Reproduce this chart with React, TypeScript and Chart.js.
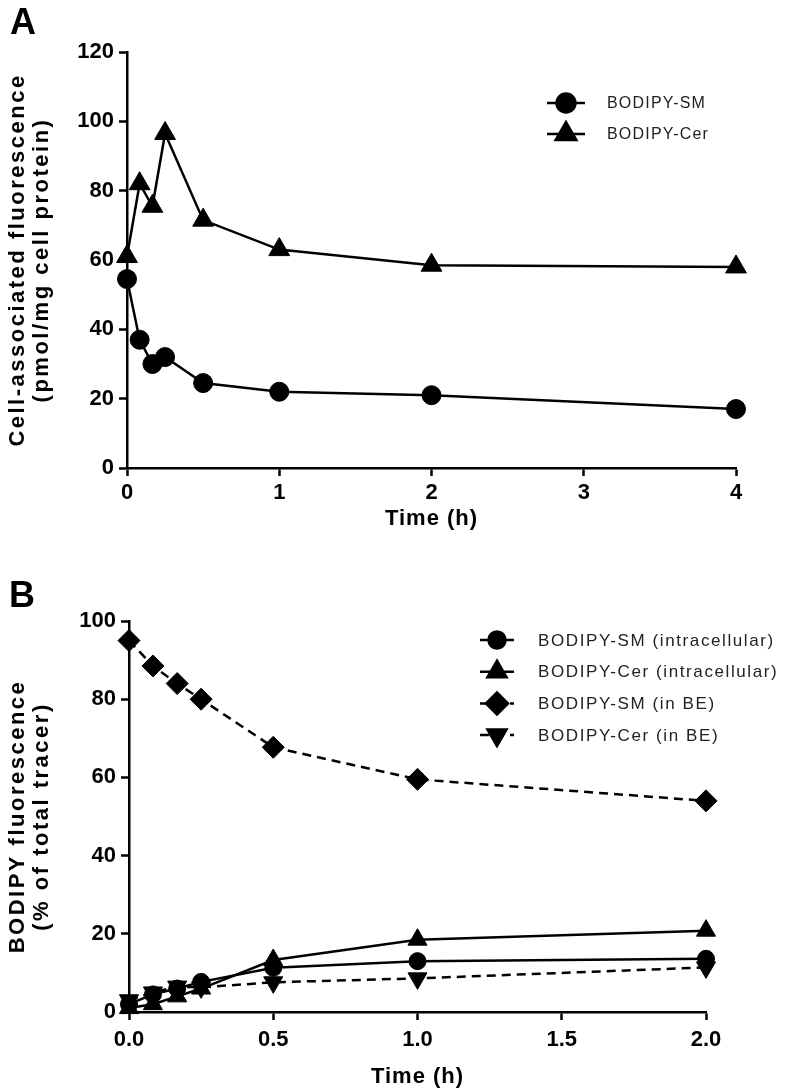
import React, { useEffect, useRef } from "react";
import { Chart, registerables } from "chart.js";
import { drawPoint } from "chart.js/helpers";

Chart.register(...registerables);

const FONT = "'Liberation Sans', Arial, Helvetica, sans-serif";

// ---------- Panel A data ----------
const timeA = [0, 0.083, 0.167, 0.25, 0.5, 1, 2, 4];
const smA = [54.5, 37, 30, 32, 24.5, 22, 21, 17];
const cerA = [61, 82, 75.5, 96.5, 71.5, 63, 58.5, 58];
const seriesNamesA = ["BODIPY-SM", "BODIPY-Cer"];
const xTicksA = [0, 1, 2, 3, 4];
const yTicksA = [0, 20, 40, 60, 80, 100, 120];

// ---------- Panel B data ----------
const timeB = [0, 0.083, 0.167, 0.25, 0.5, 1, 2];
const smIntraB = [2, 4.5, 6, 7.7, 11.3, 13, 13.6];
const cerIntraB = [1, 2, 4, 6, 13.3, 18.5, 20.8];
const smBEB = [95, 88.5, 84, 80, 67.7, 59.5, 54];
const cerBEB = [3, 5, 6.5, 6.3, 7.6, 8.6, 11.4];
const seriesNamesB = [
  "BODIPY-SM (intracellular)",
  "BODIPY-Cer (intracellular)",
  "BODIPY-SM (in BE)",
  "BODIPY-Cer (in BE)",
];
const xTicksB = [0, 0.5, 1, 1.5, 2];
const yTicksB = [0, 20, 40, 60, 80, 100];

const pts = (xs: number[], ys: number[]) => xs.map((x, i) => ({ x, y: ys[i] }));

const textPlugin = {
  id: "panelText",
  afterDraw(chart: any, _args: any, opts: any) {
    const ctx: CanvasRenderingContext2D = chart.ctx;
    const ca = chart.chartArea;
    ctx.save();
    ctx.fillStyle = "#000";
    // panel letter
    ctx.font = `bold ${opts.panelSize}px ${FONT}`;
    ctx.textAlign = "left";
    ctx.textBaseline = "alphabetic";
    ctx.fillText(opts.panel, opts.panelX, opts.panelY);

    // y title (rotated, multi-line)
    ctx.font = `bold ${opts.titleSize}px ${FONT}`;
    (ctx as any).letterSpacing = opts.titleSpacing + "px";
    const cy = (ca.top + ca.bottom) / 2;
    opts.yTitle.forEach((line: string, i: number) => {
      ctx.save();
      ctx.translate(opts.yTitleX[i], cy);
      ctx.rotate(-Math.PI / 2);
      ctx.textAlign = "center";
      ctx.textBaseline = "middle";
      ctx.fillText(line, 0, 0);
      ctx.restore();
    });

    // x title
    (ctx as any).letterSpacing = opts.xTitleSpacing + "px";
    ctx.textAlign = "center";
    ctx.textBaseline = "middle";
    ctx.fillText(opts.xTitle, (ca.left + ca.right) / 2, opts.xTitleY);

    // legend
    ctx.font = `${opts.legendSize}px ${FONT}`;
    (ctx as any).letterSpacing = opts.legendSpacing + "px";
    chart.data.datasets.forEach((ds: any, i: number) => {
      const y = opts.legendY + i * opts.legendDy;
      const x = opts.legendX;
      ctx.save();
      ctx.strokeStyle = "#000";
      ctx.lineWidth = ds.borderWidth;
      ctx.setLineDash(ds.borderDash || []);
      ctx.beginPath();
      ctx.moveTo(x - opts.legendHalf, y);
      ctx.lineTo(x + opts.legendHalf, y);
      ctx.stroke();
      ctx.setLineDash([]);
      ctx.fillStyle = "#000";
      drawPoint(ctx, {
        pointStyle: ds.pointStyle,
        rotation: ds.pointRotation || 0,
        radius: ds.pointRadius,
        borderWidth: 1,
      } as any, x, y);
      ctx.restore();
      ctx.fillStyle = "#222";
      ctx.textAlign = "left";
      ctx.textBaseline = "middle";
      ctx.fillText(ds.label, opts.legendTextX, y + 1);
    });
    (ctx as any).letterSpacing = "0px";
    ctx.restore();
  },
};

function axisCommon(min: number, max: number, ticks: number[], fmt: (v: number) => string, size: number, pad: number) {
  return {
    type: "linear" as const,
    min,
    max,
    afterBuildTicks: (scale: any) => {
      scale.ticks = ticks.map((v) => ({ value: v }));
    },
    grid: {
      display: true,
      drawOnChartArea: false,
      drawTicks: true,
      tickLength: 8,
      tickWidth: 2.5,
      tickColor: "#000",
      color: "#000",
    },
    border: { display: true, color: "#000", width: 2.5 },
    ticks: {
      color: "#000",
      font: { family: FONT, size, weight: "bold" as const },
      padding: pad,
      callback: (v: any) => fmt(Number(v)),
    },
  };
}

function makeConfig(p: any) {
  return {
    type: "line" as const,
    data: { datasets: p.datasets },
    options: {
      responsive: false,
      animation: false as const,
      devicePixelRatio: 1,
      layout: { padding: p.padding },
      plugins: {
        legend: { display: false },
        tooltip: { enabled: false },
        panelText: p.text,
      },
      scales: {
        x: {
          ...axisCommon(p.xMin, p.xMax, p.xTicks, p.xFmt, p.tickSize, p.xTickPad),
          afterFit: (s: any) => {
            s.height = p.xAxisHeight;
          },
        },
        y: {
          ...axisCommon(p.yMin, p.yMax, p.yTicks, (v: number) => String(v), p.tickSize, 5),
          afterFit: (s: any) => {
            s.width = p.yAxisWidth;
          },
        },
      },
    },
    plugins: [textPlugin],
  };
}

function ds(label: string, data: any[], style: string, radius: number, dashed: boolean, rotation = 0) {
  return {
    label,
    data,
    borderColor: "#000",
    backgroundColor: "#000",
    borderWidth: 2.5,
    borderDash: dashed ? [9, 6] : [],
    pointStyle: style,
    pointRadius: radius,
    pointRotation: rotation,
    pointBorderWidth: 1,
    pointBackgroundColor: "#000",
    pointBorderColor: "#000",
    tension: 0,
    clip: false,
  };
}

const W = 794;
const HA = 545;
const HB = 547;

function ChartCanvas({ config, width, height, top }: any) {
  const ref = useRef<HTMLCanvasElement>(null);
  useEffect(() => {
    const chart = new Chart(ref.current as HTMLCanvasElement, config as any);
    return () => chart.destroy();
  }, []);
  return (
    <canvas
      ref={ref}
      width={width}
      height={height}
      style={{ position: "absolute", left: 0, top, width, height, display: "block" }}
    />
  );
}

export default function App() {
  const configA = makeConfig({
    datasets: [
      ds(seriesNamesA[0], pts(timeA, smA), "circle", 9.5, false),
      ds(seriesNamesA[1], pts(timeA, cerA), "triangle", 12, false),
    ],
    padding: { left: 0, top: 52, right: 58, bottom: 0 },
    xMin: 0,
    xMax: 4,
    xTicks: xTicksA,
    xFmt: (v: number) => String(v),
    yMin: 0,
    yMax: 120,
    yTicks: yTicksA,
    tickSize: 22,
    xTickPad: 4,
    xAxisHeight: HA - 468,
    yAxisWidth: 127,
    text: {
      panel: "A",
      panelSize: 36,
      panelX: 10,
      panelY: 34,
      yTitle: ["Cell-associated fluorescence", "(pmol/mg cell protein)"],
      yTitleX: [18, 42],
      titleSize: 22,
      titleSpacing: 2.5,
      xTitle: "Time (h)",
      xTitleY: 519,
      xTitleSpacing: 1,
      legendSize: 16,
      legendSpacing: 1.2,
      legendX: 566,
      legendHalf: 19,
      legendTextX: 607,
      legendY: 103,
      legendDy: 31,
    },
  });

  const configB = makeConfig({
    datasets: [
      ds(seriesNamesB[0], pts(timeB, smIntraB), "circle", 8.5, false),
      ds(seriesNamesB[1], pts(timeB, cerIntraB), "triangle", 11, false),
      ds(seriesNamesB[2], pts(timeB, smBEB), "rectRot", 11, true),
      ds(seriesNamesB[3], pts(timeB, cerBEB), "triangle", 11, true, 180),
    ],
    padding: { left: 0, top: 621 - HA, right: W - 706, bottom: 0 },
    xMin: 0,
    xMax: 2,
    xTicks: xTicksB,
    xFmt: (v: number) => v.toFixed(1),
    yMin: 0,
    yMax: 100,
    yTicks: yTicksB,
    tickSize: 22,
    xTickPad: 7,
    xAxisHeight: HA + HB - 1012,
    yAxisWidth: 129,
    text: {
      panel: "B",
      panelSize: 36,
      panelX: 9,
      panelY: 607 - HA,
      yTitle: ["BODIPY fluorescence", "(% of total tracer)"],
      yTitleX: [18, 42],
      titleSize: 22,
      titleSpacing: 2.5,
      xTitle: "Time (h)",
      xTitleY: 1077 - HA,
      xTitleSpacing: 1,
      legendSize: 17,
      legendSpacing: 1.6,
      legendX: 497,
      legendHalf: 17,
      legendTextX: 538,
      legendY: 640 - HA,
      legendDy: 31.7,
    },
  });

  return (
    <div style={{ position: "absolute", left: 0, top: 0, width: W, height: HA + HB, background: "#fff" }}>
      <ChartCanvas config={configA} width={W} height={HA} top={0} />
      <ChartCanvas config={configB} width={W} height={HB} top={HA} />
    </div>
  );
}
